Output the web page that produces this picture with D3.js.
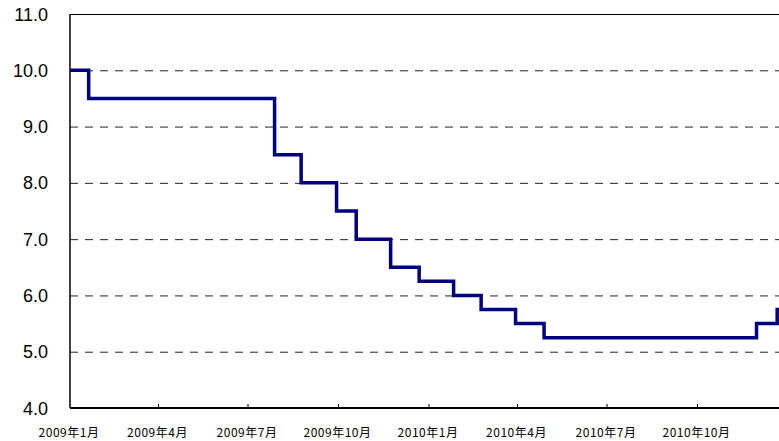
<!DOCTYPE html>
<html>
<head>
<meta charset="utf-8">
<script src="https://cdn.jsdelivr.net/npm/d3@7"></script>
<style>
  body { margin: 0; background: #fff; }
  svg { display: block; }
</style>
</head>
<body>
<svg id="chart" width="779" height="441"></svg>
<script>
// step dates (rate change days) and rates
var changeDates = ["2009-01-01", "2009-01-20", "2009-07-28", "2009-08-24", "2009-09-29",
  "2009-10-19", "2009-11-23", "2009-12-22", "2010-01-26", "2010-02-23", "2010-03-30",
  "2010-04-28", "2010-11-30", "2010-12-21", "2011-01-01"];
var rates = [10.0, 9.5, 8.5, 8.0, 7.5, 7.0, 6.5, 6.25, 6.0, 5.75, 5.5, 5.25, 5.5, 5.75, 5.75];

var yTicks = [4, 5, 6, 7, 8, 9, 10, 11];
var xTickDates = ["2009-01-01", "2009-04-01", "2009-07-01", "2009-10-01", "2010-01-01",
  "2010-04-01", "2010-07-01", "2010-10-01"];
var xTickLabels = ["2009年1月", "2009年4月", "2009年7月", "2009年10月", "2010年1月",
  "2010年4月", "2010年7月", "2010年10月"];

var parse = d3.utcParse("%Y-%m-%d");
var data = changeDates.map((d, i) => ({ date: parse(d), value: rates[i] }));

var plotLeft = 70, plotTop = 14, plotBottom = 408;
var svg = d3.select("#chart");

var x = d3.scaleUtc()
  .domain([parse("2009-01-01"), parse("2011-01-01")])
  .range([plotLeft, plotLeft + 730 * 359 / 365]);
var y = d3.scaleLinear().domain([4, 11]).range([plotBottom, plotTop]);

// dashed gridlines
svg.append("g").selectAll("line")
  .data(yTicks.filter(v => v > 4 && v < 11))
  .enter().append("line")
  .attr("x1", plotLeft).attr("x2", 779)
  .attr("y1", d => y(d) + 0.5).attr("y2", d => y(d) + 0.5)
  .attr("stroke", "#222")
  .attr("stroke-width", 1)
  .attr("stroke-dasharray", "8,7");

// top border
svg.append("line")
  .attr("x1", plotLeft).attr("x2", 779)
  .attr("y1", y(11) + 0.5).attr("y2", y(11) + 0.5)
  .attr("stroke", "#000").attr("stroke-width", 1);

// y labels
svg.append("g").selectAll("text")
  .data(yTicks)
  .enter().append("text")
  .attr("x", 48)
  .attr("y", d => y(d) + 6.5)
  .attr("text-anchor", "end")
  .style("font-family", "'Liberation Sans', Arial, sans-serif")
  .style("font-size", "18px")
  .attr("fill", "#000")
  .text(d => d.toFixed(1));

// x axis
svg.append("line")
  .attr("x1", plotLeft).attr("x2", 779)
  .attr("y1", plotBottom).attr("y2", plotBottom)
  .attr("stroke", "#000").attr("stroke-width", 2);

svg.append("g").selectAll("line")
  .data(xTickDates.slice(1))
  .enter().append("line")
  .attr("x1", d => x(parse(d))).attr("x2", d => x(parse(d)))
  .attr("y1", plotBottom).attr("y2", plotBottom - 4)
  .attr("stroke", "#000").attr("stroke-width", 1);

svg.append("g").selectAll("text")
  .data(xTickDates)
  .enter().append("text")
  .attr("x", d => x(parse(d)) - 1)
  .attr("y", 437)
  .attr("text-anchor", "middle")
  .style("font-family", "'Noto Sans CJK JP', sans-serif")
  .style("font-size", "12px")
  .style("letter-spacing", "0.5px")
  .attr("fill", "#000")
  .text((d, i) => xTickLabels[i]);

// y axis
svg.append("line")
  .attr("x1", plotLeft).attr("x2", plotLeft)
  .attr("y1", plotTop).attr("y2", plotBottom)
  .attr("stroke", "#000").attr("stroke-width", 1.5);

// step line
var line = d3.line()
  .x(d => x(d.date))
  .y(d => y(d.value))
  .curve(d3.curveStepAfter);

svg.append("path")
  .datum(data)
  .attr("d", line)
  .attr("fill", "none")
  .attr("stroke", "#000080")
  .attr("stroke-width", 3.5);
</script>
</body>
</html>
